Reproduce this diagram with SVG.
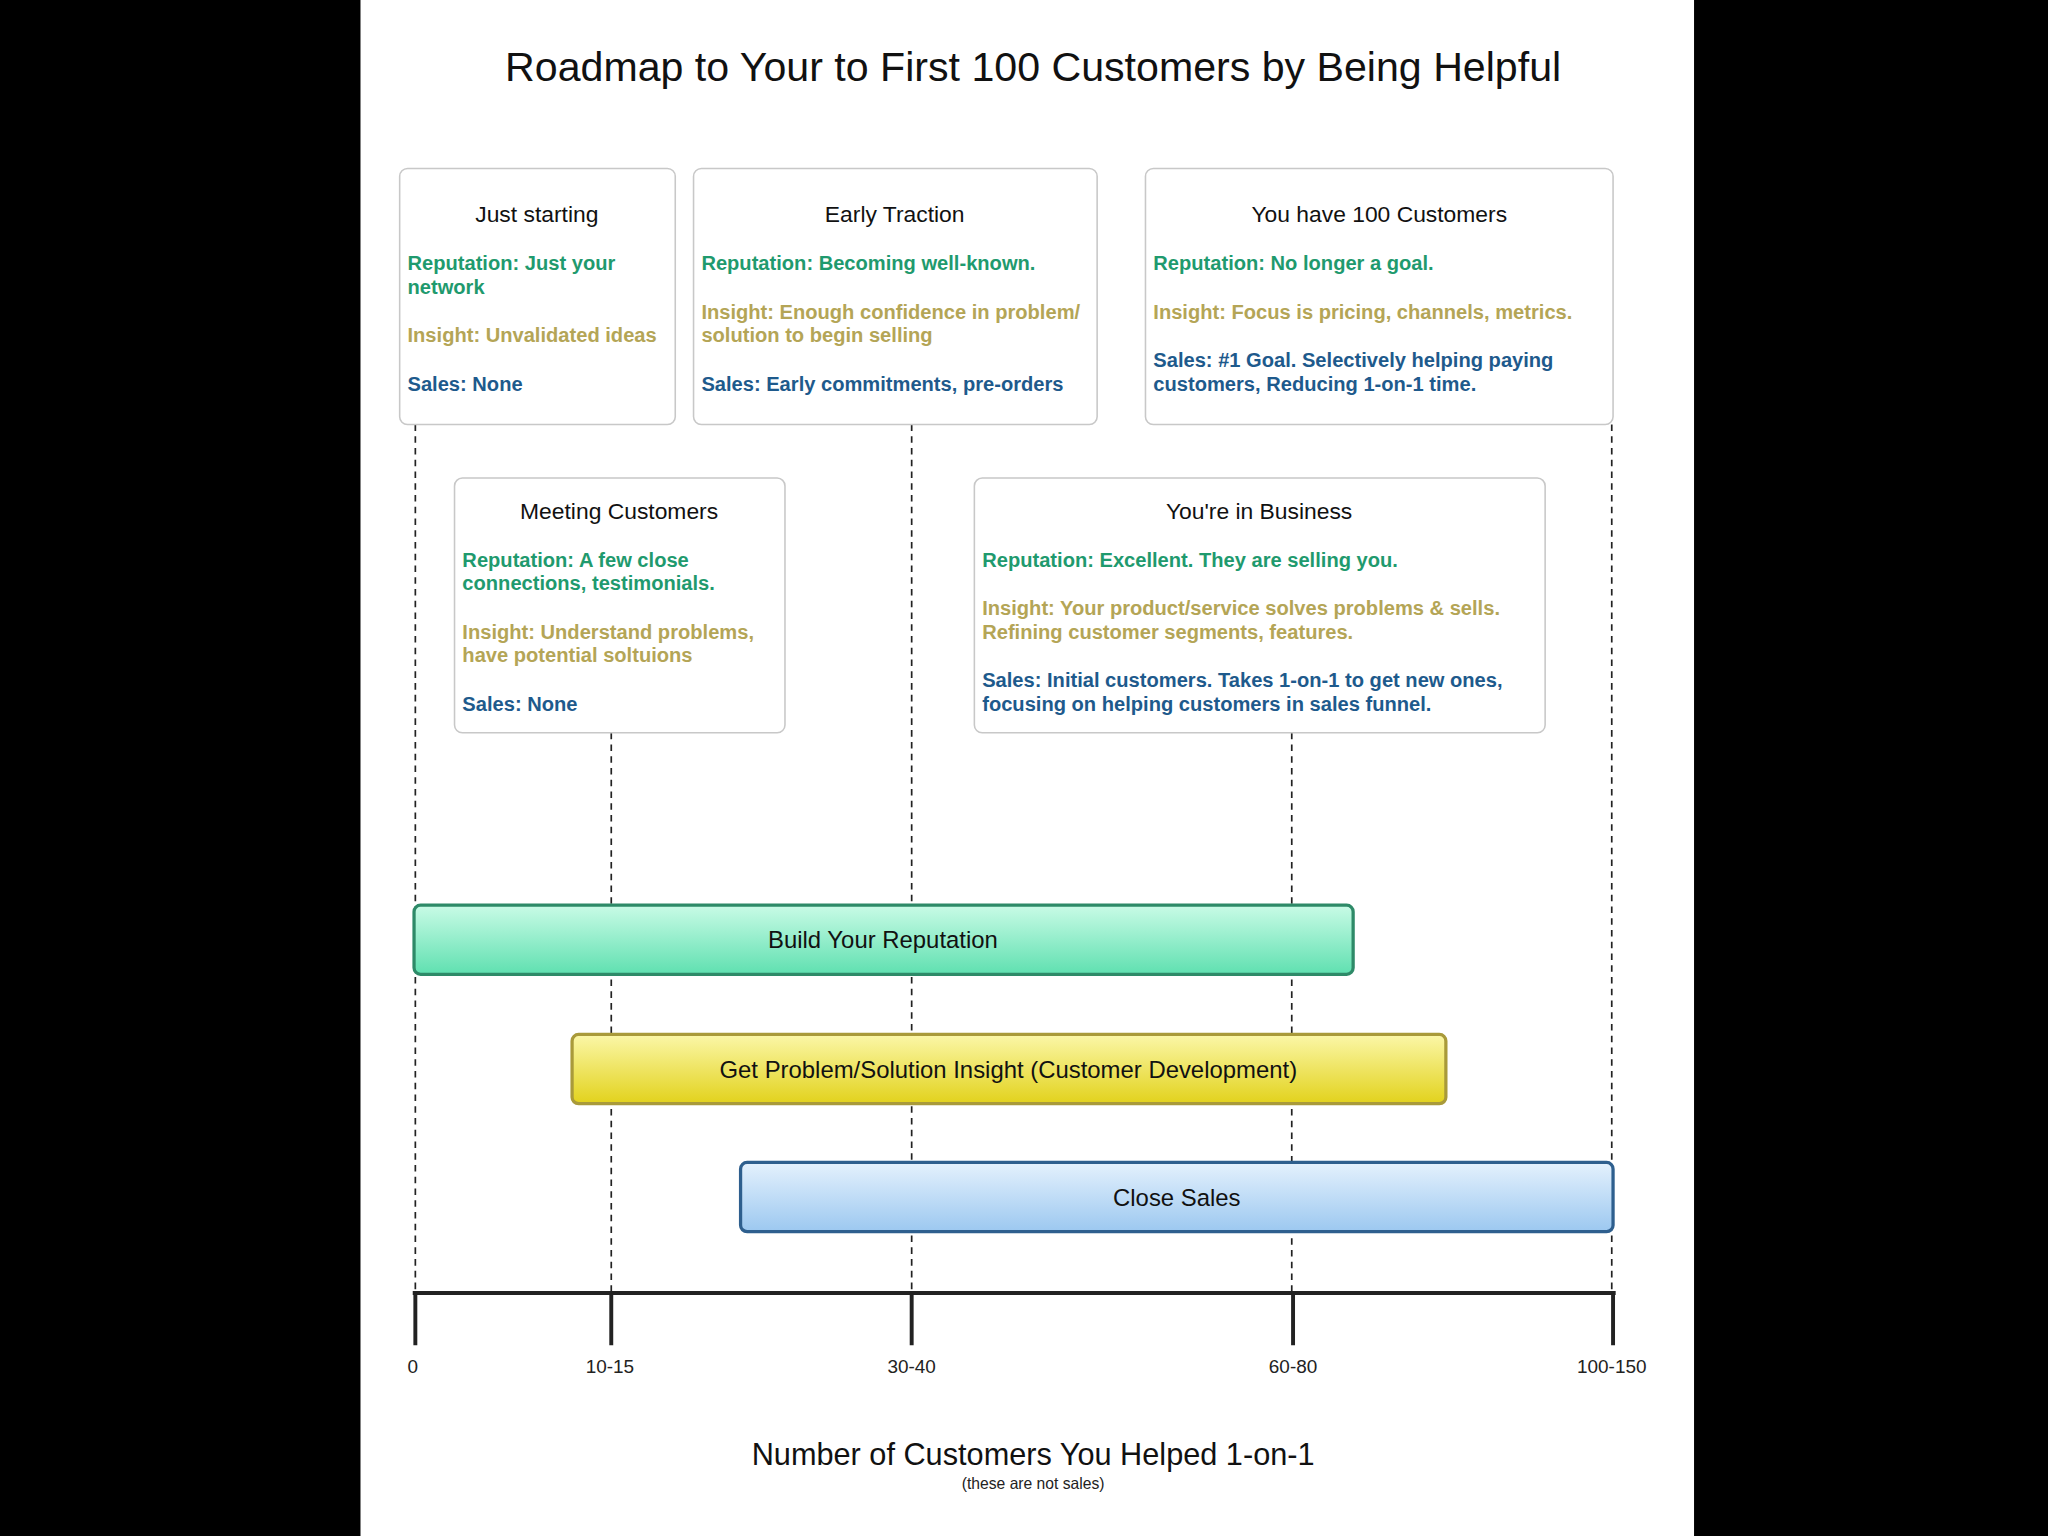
<svg xmlns="http://www.w3.org/2000/svg" width="2048" height="1536" viewBox="0 0 2048 1536">
<defs>
<style>
text{font-family:"Liberation Sans",Arial,sans-serif}
.box{fill:#fff;stroke:#c8c8c8;stroke-width:1.2}
.h{font-size:17.5px;fill:#111;text-anchor:middle}
.r{font-size:15.4px;font-weight:bold;fill:#1f9a6e}
.i{font-size:15.4px;font-weight:bold;fill:#b4a556}
.s{font-size:15.4px;font-weight:bold;fill:#1e5a8c}
.d{stroke:#222;stroke-width:1.3;stroke-dasharray:5,4;fill:none}
.bl{font-size:18.3px;fill:#111;text-anchor:middle}
.ax{font-size:14.5px;fill:#222;text-anchor:middle}
</style>
<linearGradient id="gG" x1="0" y1="0" x2="0" y2="1"><stop offset="0" stop-color="#c9fbe6"/><stop offset="1" stop-color="#5fe0b0"/></linearGradient>
<linearGradient id="gY" x1="0" y1="0" x2="0" y2="1"><stop offset="0" stop-color="#fbf7a8"/><stop offset="1" stop-color="#e2d21c"/></linearGradient>
<linearGradient id="gB" x1="0" y1="0" x2="0" y2="1"><stop offset="0" stop-color="#e4f1fd"/><stop offset="1" stop-color="#9cc8f0"/></linearGradient>
</defs>
<rect width="2048" height="1536" fill="#000"/>
<g transform="scale(1.30612)">
<rect x="276" y="0" width="1021" height="1176" fill="#fff"/>
<text x="791" y="62" font-size="31.5" text-anchor="middle" fill="#111">Roadmap to Your to First 100 Customers by Being Helpful</text>
<g id="connectors">
<path class="d" d="M318 325V990M468 561V990M698 325V990M989 561V990M1234 325V990"/>
<path d="M316 990H1237M318 990V1030M468 990V1030M698 990V1030M990 990V1030M1235 990V1030" stroke="#222" stroke-width="3" fill="none"/>
</g>
<g id="n1"><rect class="box" x="306" y="129" width="211" height="196" rx="6"/>
<text class="h" x="411" y="170">Just starting</text>
<text class="r" x="312" y="207">Reputation: Just your</text><text class="r" x="312" y="225">network</text>
<text class="i" x="312" y="262">Insight: Unvalidated ideas</text>
<text class="s" x="312" y="299">Sales: None</text></g>
<g id="n2"><rect class="box" x="531" y="129" width="309" height="196" rx="6"/>
<text class="h" x="685" y="170">Early Traction</text>
<text class="r" x="537" y="207">Reputation: Becoming well-known.</text>
<text class="i" x="537" y="244">Insight: Enough confidence in problem/</text><text class="i" x="537" y="262">solution to begin selling</text>
<text class="s" x="537" y="299">Sales: Early commitments, pre-orders</text></g>
<g id="n3"><rect class="box" x="877" y="129" width="358" height="196" rx="6"/>
<text class="h" x="1056" y="170">You have 100 Customers</text>
<text class="r" x="883" y="207">Reputation: No longer a goal.</text>
<text class="i" x="883" y="244">Insight: Focus is pricing, channels, metrics.</text>
<text class="s" x="883" y="281">Sales: #1 Goal. Selectively helping paying</text><text class="s" x="883" y="299">customers,  Reducing 1-on-1 time.</text></g>
<g id="n4"><rect class="box" x="348" y="366" width="253" height="195" rx="6"/>
<text class="h" x="474" y="397">Meeting Customers</text>
<text class="r" x="354" y="434">Reputation: A few close</text><text class="r" x="354" y="452">connections, testimonials.</text>
<text class="i" x="354" y="489">Insight: Understand problems,</text><text class="i" x="354" y="507">have potential soltuions</text>
<text class="s" x="354" y="544">Sales: None</text></g>
<g id="n5"><rect class="box" x="746" y="366" width="437" height="195" rx="6"/>
<text class="h" x="964" y="397">You're in Business</text>
<text class="r" x="752" y="434">Reputation: Excellent. They are selling you.</text>
<text class="i" x="752" y="471">Insight: Your product/service solves problems &amp; sells.</text><text class="i" x="752" y="489">Refining customer segments, features.</text>
<text class="s" x="752" y="526">Sales: Initial customers. Takes 1-on-1 to get new ones,</text><text class="s" x="752" y="544">focusing on helping customers in sales funnel.</text></g>
<g id="bar1"><rect x="317" y="693" width="719" height="53" rx="5" fill="url(#gG)" stroke="#2e8a68" stroke-width="2.5"/><text class="bl" x="676" y="726">Build Your Reputation</text></g>
<g id="bar2"><rect x="438" y="792" width="669" height="53" rx="5" fill="url(#gY)" stroke="#a99a3a" stroke-width="2.5"/><text class="bl" x="772" y="825">Get Problem/Solution Insight (Customer Development)</text></g>
<g id="bar3"><rect x="567" y="890" width="668" height="53" rx="5" fill="url(#gB)" stroke="#2e5f8e" stroke-width="2.5"/><text class="bl" x="901" y="923">Close Sales</text></g>
<g id="axis">
<text class="ax" x="316" y="1051">0</text><text class="ax" x="467" y="1051">10-15</text><text class="ax" x="698" y="1051">30-40</text><text class="ax" x="990" y="1051">60-80</text><text class="ax" x="1234" y="1051">100-150</text>
<text x="791" y="1122" font-size="23.5" text-anchor="middle" fill="#111">Number of Customers You Helped 1-on-1</text>
<text x="791" y="1140" font-size="12" text-anchor="middle" fill="#222">(these are not sales)</text>
</g>
</g>
</svg>
